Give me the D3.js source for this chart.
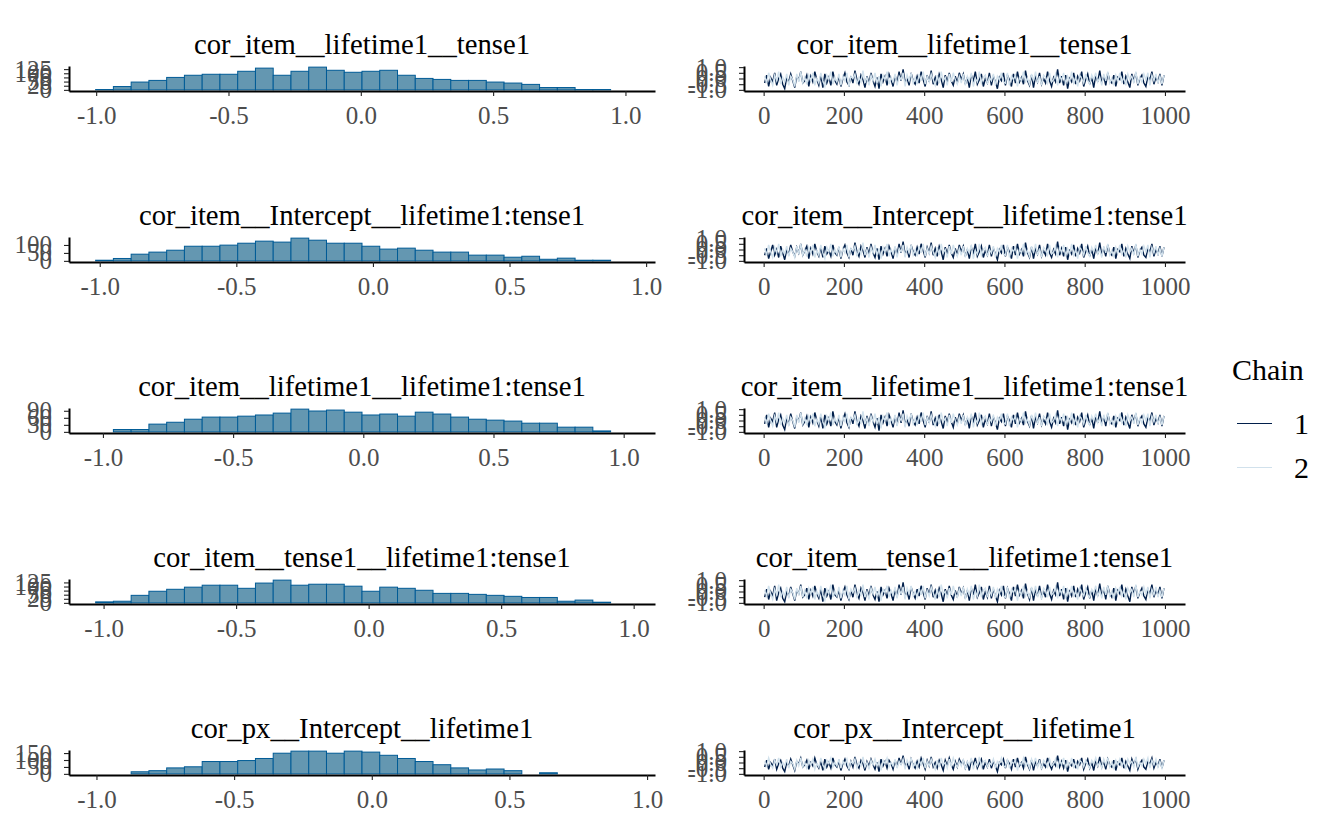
<!DOCTYPE html>
<html>
<head>
<meta charset="utf-8">
<script src="https://cdn.jsdelivr.net/npm/d3@7"></script>
<style>
  body { margin: 0; background: #fff; }
  svg { display: block; }
</style>
</head>
<body>
<svg id="chart" width="1344" height="830"></svg>
<script>
// Parameter names, one per row
const parNames = [
    "cor_item__lifetime1__tense1",
    "cor_item__Intercept__lifetime1:tense1",
    "cor_item__lifetime1__lifetime1:tense1",
    "cor_item__tense1__lifetime1:tense1",
    "cor_px__Intercept__lifetime1"
];

// Histogram bins (30 per panel)
const binStarts = [-1.002, -1.015, -1.028, -1.03, -1.003];
const binWidths = [0.0671, 0.065, 0.0682, 0.067, 0.0645];

const countsLifeTense = [2, 20, 47, 57, 75, 88, 94, 94, 112, 131, 88, 112, 137, 118, 106, 112, 118, 88, 69, 63, 57, 57, 47, 41, 33, 14, 14, 2, 2, 0];
const countsInterLT = [4, 15, 42, 55, 67, 92, 92, 99, 111, 124, 118, 143, 130, 111, 111, 92, 74, 80, 67, 55, 55, 36, 36, 23, 29, 10, 17, 4, 4, 0];
const countsLifeLT = [0, 10, 10, 33, 41, 54, 63, 63, 67, 72, 80, 97, 89, 93, 84, 72, 76, 67, 84, 76, 63, 54, 50, 46, 37, 37, 20, 20, 4, 0];
const countsTenseLT = [6, 10, 46, 71, 83, 96, 108, 108, 89, 121, 139, 108, 114, 114, 102, 71, 96, 89, 77, 58, 58, 52, 46, 40, 33, 33, 10, 17, 4, 0];
const countsPxInterLife = [0, 0, 15, 23, 43, 51, 89, 89, 96, 111, 149, 164, 164, 149, 164, 157, 134, 111, 89, 66, 43, 28, 35, 23, 0, 8, 0, 0, 0, 0];

const histTicks = [
    [0, 25, 50, 75, 100, 125],
    [0, 50, 100],
    [0, 30, 60, 90],
    [0, 25, 50, 75, 100, 125],
    [0, 50, 100, 150]
];
const histXTicks = [-1, -0.5, 0, 0.5, 1];
const traceXTicks = [0, 200, 400, 600, 800, 1000];
const traceYTicks = [-1, -0.5, 0, 0.5, 1];
const traceLimits = [-1, 1];
const nIter = 1000;

// Trace draws, thinned to every 5th iteration, chain 1 and chain 2
const traceLifeTense1 = [
    -0.4, 0.3, -0.7, 0.1, -0.3, 0.5, -0.6, 0.0, 0.4, -0.5,
    -0.9, 0.1, -0.3, 0.4, -0.2, -0.8, 0.2, -0.1, 0.6, -0.4,
    -0.2, 0.3, -0.7, 0.2, -0.3, 0.6, -0.1, -0.6, 0.3, -0.8,
    0.4, -0.4, 0.1, -0.6, 0.6, -0.2, -0.5, 0.2, -0.7, 0.0,
    0.5, -0.3, -0.6, 0.2, -0.4, 0.7, -0.1, -0.5, 0.3, -0.1,
    -0.8, 0.2, -0.4, 0.5, -0.2, -0.7, 0.1, -0.9, 0.4, -0.3,
    0.2, -0.6, 0.4, -0.1, -0.7, 0.3, -0.4, 0.6, -0.2, 0.8,
    -0.3, 0.0, -0.6, 0.5, -0.2, -0.5, 0.2, -0.4, 0.6, -0.1,
    -0.7, 0.3, -0.3, 0.7, -0.5, 0.1, -0.6, 0.4, -0.1, -0.8,
    0.3, -0.3, 0.5, -0.2, -0.6, 0.2, -0.4, 0.5, -0.1, 0.4,
    -0.5, 0.1, -0.8, 0.3, -0.2, 0.6, -0.5, -0.1, 0.4, -0.7,
    0.0, -0.4, 0.5, -0.6, 0.2, -0.3, -0.9, 0.1, -0.2, 0.5,
    -0.6, 0.3, -0.1, -0.7, 0.4, -0.4, 0.6, -0.3, 0.1, -0.5,
    0.7, -0.2, -0.6, 0.3, -0.8, 0.2, -0.3, 0.5, -0.5, 0.0,
    -0.4, 0.6, -0.2, -0.7, 0.1, -0.3, 0.8, -0.4, 0.2, -0.6,
    0.3, -0.9, 0.0, -0.3, 0.5, -0.5, 0.2, -0.2, 0.6, -0.7,
    -0.1, 0.4, -0.5, 0.1, -0.8, 0.3, -0.3, 0.7, -0.4, 0.2,
    -0.6, 0.5, -0.2, -0.4, 0.3, -0.7, 0.1, -0.1, 0.6, -0.5,
    0.2, -0.3, -0.8, 0.4, -0.2, 0.5, -0.6, 0.0, 0.3, -0.4,
    -0.7, 0.2, -0.1, 0.6, -0.5, 0.1, -0.3, 0.4, -0.6, 0.3
];
const traceLifeTense2 = [
    0.2, -0.4, 0.5, -0.1, -0.6, 0.3, -0.2, 0.6, -0.5, 0.1,
    -0.3, 0.4, -0.6, 0.2, -0.1, -0.7, 0.4, -0.3, 0.6, -0.4,
    0.1, -0.5, 0.3, -0.2, 0.5, -0.6, 0.0, -0.4, 0.5, -0.2,
    -0.7, 0.3, -0.1, 0.6, -0.5, 0.1, -0.3, 0.4, -0.6, 0.2,
    -0.2, 0.5, -0.7, 0.2, 0.0, 0.4, -0.5, 0.1, -0.3, 0.7,
    -0.4, 0.1, -0.6, 0.3, -0.2, 0.5, -0.4, 0.2, -0.7, 0.3,
    -0.1, 0.6, -0.5, 0.1, -0.3, 0.4, -0.6, 0.2, -0.1, 0.5,
    -0.7, 0.3, -0.2, 0.5, -0.4, 0.1, -0.5, 0.4, -0.2, 0.6,
    -0.5, 0.2, -0.3, 0.4, -0.1, -0.6, 0.3, -0.4, 0.6, -0.2,
    0.1, -0.6, 0.4, -0.3, 0.5, -0.1, -0.5, 0.2, -0.4, 0.4,
    -0.6, 0.2, -0.2, 0.5, -0.7, 0.0, -0.3, 0.6, -0.4, 0.1,
    0.3, -0.5, 0.1, -0.2, 0.4, -0.6, 0.2, -0.1, 0.5, -0.3,
    -0.4, 0.5, -0.6, 0.2, -0.1, 0.3, -0.7, 0.1, -0.2, 0.6,
    -0.3, 0.0, -0.5, 0.4, -0.2, 0.6, -0.4, 0.2, -0.6, 0.3,
    0.1, -0.4, 0.5, -0.3, -0.1, 0.4, -0.6, 0.3, -0.2, 0.5,
    -0.5, 0.2, -0.3, 0.6, -0.4, 0.1, -0.7, 0.3, 0.0, -0.4,
    0.4, -0.2, -0.5, 0.3, -0.1, 0.5, -0.3, 0.1, -0.6, 0.4,
    -0.2, 0.6, -0.4, 0.0, -0.5, 0.3, -0.2, 0.5, -0.3, 0.1,
    -0.6, 0.4, -0.1, 0.2, -0.4, 0.6, -0.5, 0.1, -0.3, 0.4,
    -0.1, 0.5, -0.6, 0.3, -0.2, 0.4, -0.4, 0.2, -0.5, 0.3
];
const traceInterLT1 = [
    -0.5, 0.1, -0.8, -0.2, 0.4, -0.5, 0.0, -0.7, 0.3, -0.3,
    -0.9, 0.0, -0.4, 0.4, -0.2, -0.6, 0.2, -0.3, 0.5, -0.5,
    -0.1, 0.3, -0.8, 0.1, -0.4, 0.5, -0.2, -0.6, 0.2, -0.7,
    0.3, -0.4, -0.1, -0.6, 0.4, -0.3, -0.5, 0.2, -0.8, 0.0,
    0.4, -0.3, -0.7, 0.1, -0.5, 0.6, -0.2, -0.6, 0.3, -0.1,
    -0.7, 0.2, -0.4, 0.5, -0.3, -0.7, 0.1, -0.9, 0.3, -0.4,
    0.1, -0.6, 0.3, -0.2, -0.8, 0.2, -0.5, 0.5, -0.3, 0.7,
    -0.4, 0.0, -0.7, 0.4, -0.2, -0.5, 0.2, -0.4, 0.5, -0.1,
    -0.7, 0.2, -0.3, 0.6, -0.5, 0.1, -0.6, 0.3, -0.2, -0.9,
    0.2, -0.4, 0.4, -0.3, -0.7, 0.1, -0.5, 0.4, -0.2, 0.3,
    -0.6, 0.0, -0.8, 0.2, -0.3, 0.5, -0.6, -0.2, 0.3, -0.7,
    -0.1, -0.5, 0.4, -0.6, 0.1, -0.4, -0.9, 0.0, -0.3, 0.4,
    -0.6, 0.2, -0.2, -0.8, 0.3, -0.5, 0.5, -0.4, 0.0, -0.6,
    0.6, -0.3, -0.7, 0.2, -0.8, 0.1, -0.4, 0.4, -0.6, -0.1,
    -0.5, 0.5, -0.3, -0.7, 0.0, -0.4, 0.7, -0.5, 0.1, -0.6,
    0.2, -0.9, -0.1, -0.4, 0.4, -0.6, 0.1, -0.3, 0.5, -0.7,
    -0.2, 0.3, -0.6, 0.0, -0.8, 0.2, -0.4, 0.6, -0.5, 0.1,
    -0.6, 0.4, -0.3, -0.5, 0.2, -0.8, 0.0, -0.2, 0.5, -0.6,
    0.1, -0.4, -0.8, 0.3, -0.3, 0.4, -0.7, -0.1, 0.2, -0.5,
    -0.7, 0.1, -0.2, 0.5, -0.6, 0.0, -0.4, 0.3, -0.6, 0.2
];
const traceInterLT2 = [
    0.1, -0.5, 0.4, -0.2, -0.7, 0.2, -0.3, 0.5, -0.6, 0.0,
    -0.4, 0.3, -0.6, 0.1, -0.2, -0.7, 0.3, -0.4, 0.5, -0.5,
    0.0, -0.6, 0.2, -0.3, 0.4, -0.7, -0.1, -0.5, 0.4, -0.3,
    -0.8, 0.2, -0.2, 0.5, -0.6, 0.0, -0.4, 0.3, -0.7, 0.1,
    -0.3, 0.4, -0.7, 0.1, -0.1, 0.3, -0.6, 0.0, -0.4, 0.6,
    -0.5, 0.0, -0.7, 0.2, -0.3, 0.4, -0.5, 0.1, -0.8, 0.2,
    -0.2, 0.5, -0.6, 0.0, -0.4, 0.3, -0.7, 0.1, -0.2, 0.4,
    -0.7, 0.2, -0.3, 0.4, -0.5, 0.0, -0.6, 0.3, -0.3, 0.5,
    -0.6, 0.1, -0.4, 0.3, -0.2, -0.7, 0.2, -0.5, 0.5, -0.3,
    0.0, -0.7, 0.3, -0.4, 0.4, -0.2, -0.6, 0.1, -0.5, 0.3,
    -0.7, 0.1, -0.3, 0.4, -0.8, -0.1, -0.4, 0.5, -0.5, 0.0,
    0.2, -0.6, 0.0, -0.3, 0.3, -0.7, 0.1, -0.2, 0.4, -0.4,
    -0.5, 0.4, -0.7, 0.1, -0.2, 0.2, -0.8, 0.0, -0.3, 0.5,
    -0.4, -0.1, -0.6, 0.3, -0.3, 0.5, -0.5, 0.1, -0.7, 0.2,
    0.0, -0.5, 0.4, -0.4, -0.2, 0.3, -0.7, 0.2, -0.3, 0.4,
    -0.6, 0.1, -0.4, 0.5, -0.5, 0.0, -0.8, 0.2, -0.1, -0.5,
    0.3, -0.3, -0.6, 0.2, -0.2, 0.4, -0.4, 0.0, -0.7, 0.3,
    -0.3, 0.5, -0.5, -0.1, -0.6, 0.2, -0.3, 0.4, -0.4, 0.0,
    -0.7, 0.3, -0.2, 0.1, -0.5, 0.5, -0.6, 0.0, -0.4, 0.3,
    -0.2, 0.4, -0.7, 0.2, -0.3, 0.3, -0.5, 0.1, -0.6, 0.2
];
const traceLifeLT1 = [
    -0.3, 0.5, -0.6, 0.2, -0.1, 0.7, -0.6, 0.1, 0.5, -0.4,
    -0.8, 0.2, -0.3, 0.6, -0.1, -0.7, 0.3, 0.0, 0.7, -0.4,
    -0.1, 0.4, -0.6, 0.3, -0.2, 0.7, 0.0, -0.5, 0.4, -0.7,
    0.5, -0.3, 0.2, -0.5, 0.8, -0.1, -0.4, 0.3, -0.7, 0.1,
    0.6, -0.2, -0.6, 0.3, -0.3, 0.8, -0.1, -0.5, 0.4, 0.0,
    -0.7, 0.4, -0.3, 0.6, -0.1, -0.6, 0.2, -0.9, 0.5, -0.2,
    0.3, -0.5, 0.5, 0.0, -0.6, 0.4, -0.4, 0.7, -0.2, 0.9,
    -0.3, 0.1, -0.5, 0.6, -0.1, -0.4, 0.3, -0.3, 0.7, 0.0,
    -0.6, 0.4, -0.2, 0.8, -0.4, 0.2, -0.5, 0.5, -0.1, -0.7,
    0.4, -0.2, 0.6, -0.1, -0.6, 0.3, -0.3, 0.6, 0.0, 0.5,
    -0.4, 0.2, -0.7, 0.4, -0.1, 0.7, -0.4, 0.0, 0.5, -0.6,
    0.1, -0.3, 0.6, -0.5, 0.3, -0.2, -0.8, 0.2, -0.1, 0.6,
    -0.5, 0.4, 0.0, -0.6, 0.5, -0.3, 0.7, -0.2, 0.2, -0.4,
    0.8, -0.1, -0.5, 0.4, -0.7, 0.3, -0.2, 0.6, -0.4, 0.1,
    -0.3, 0.7, -0.1, -0.6, 0.2, -0.2, 0.9, -0.3, 0.3, -0.5,
    0.4, -0.8, 0.1, -0.2, 0.6, -0.4, 0.3, -0.1, 0.7, -0.6,
    0.0, 0.5, -0.4, 0.2, -0.7, 0.4, -0.2, 0.8, -0.3, 0.3,
    -0.5, 0.6, -0.1, -0.3, 0.4, -0.6, 0.2, 0.0, 0.7, -0.4,
    0.3, -0.2, -0.7, 0.5, -0.1, 0.6, -0.5, 0.1, 0.4, -0.3,
    -0.6, 0.3, 0.0, 0.7, -0.4, 0.2, -0.2, 0.5, -0.5, 0.4
];
const traceLifeLT2 = [
    0.3, -0.3, 0.6, 0.0, -0.5, 0.4, -0.1, 0.7, -0.4, 0.2,
    -0.2, 0.5, -0.5, 0.3, 0.0, -0.6, 0.5, -0.2, 0.7, -0.3,
    0.2, -0.4, 0.4, -0.1, 0.6, -0.5, 0.1, -0.3, 0.6, -0.1,
    -0.6, 0.4, 0.0, 0.7, -0.4, 0.2, -0.2, 0.5, -0.5, 0.3,
    -0.1, 0.6, -0.6, 0.3, 0.1, 0.5, -0.4, 0.2, -0.2, 0.8,
    -0.3, 0.2, -0.5, 0.4, -0.1, 0.6, -0.3, 0.3, -0.7, 0.4,
    0.0, 0.7, -0.4, 0.2, -0.2, 0.5, -0.5, 0.3, 0.0, 0.6,
    -0.6, 0.4, -0.1, 0.6, -0.3, 0.2, -0.4, 0.5, -0.1, 0.7,
    -0.4, 0.3, -0.2, 0.5, 0.0, -0.5, 0.4, -0.3, 0.7, -0.1,
    0.2, -0.5, 0.5, -0.2, 0.6, 0.0, -0.4, 0.3, -0.3, 0.5,
    -0.5, 0.3, -0.1, 0.6, -0.6, 0.1, -0.2, 0.7, -0.3, 0.2,
    0.4, -0.4, 0.2, -0.1, 0.5, -0.5, 0.3, 0.0, 0.6, -0.2,
    -0.3, 0.6, -0.5, 0.3, 0.0, 0.4, -0.6, 0.2, -0.1, 0.7,
    -0.2, 0.1, -0.4, 0.5, -0.1, 0.7, -0.3, 0.3, -0.5, 0.4,
    0.2, -0.3, 0.6, -0.2, 0.0, 0.5, -0.5, 0.4, -0.1, 0.6,
    -0.4, 0.3, -0.2, 0.7, -0.3, 0.2, -0.6, 0.4, 0.1, -0.3,
    0.5, -0.1, -0.4, 0.4, 0.0, 0.6, -0.2, 0.2, -0.5, 0.5,
    -0.1, 0.7, -0.3, 0.1, -0.4, 0.4, -0.1, 0.6, -0.2, 0.2,
    -0.5, 0.5, 0.0, 0.3, -0.3, 0.7, -0.4, 0.2, -0.2, 0.5,
    0.0, 0.6, -0.5, 0.4, -0.1, 0.5, -0.3, 0.3, -0.4, 0.4
];
const traceTenseLT1 = [
    -0.5, 0.2, -0.7, 0.0, -0.4, 0.5, -0.8, -0.1, 0.3, -0.6,
    -0.9, 0.0, -0.4, 0.4, -0.2, -0.8, 0.1, -0.2, 0.6, -0.5,
    -0.3, 0.3, -0.7, 0.1, -0.4, 0.5, -0.2, -0.6, 0.2, -0.9,
    0.3, -0.4, 0.0, -0.7, 0.6, -0.3, -0.5, 0.1, -0.8, -0.1,
    0.4, -0.3, -0.7, 0.1, -0.5, 0.6, -0.2, -0.6, 0.3, -0.1,
    -0.8, 0.2, -0.4, 0.5, -0.3, -0.7, 0.0, -0.9, 0.4, -0.3,
    0.1, -0.6, 0.3, -0.2, -0.8, 0.2, -0.5, 0.6, -0.3, 0.8,
    -0.4, 0.0, -0.7, 0.4, -0.2, -0.6, 0.2, -0.4, 0.5, -0.1,
    -0.7, 0.3, -0.3, 0.6, -0.5, 0.1, -0.6, 0.3, -0.2, -0.9,
    0.2, -0.4, 0.5, -0.3, -0.7, 0.1, -0.5, 0.4, -0.2, 0.3,
    -0.6, 0.1, -0.8, 0.3, -0.3, 0.6, -0.5, -0.1, 0.4, -0.7,
    0.0, -0.5, 0.5, -0.6, 0.2, -0.4, -0.9, 0.1, -0.3, 0.5,
    -0.6, 0.3, -0.2, -0.8, 0.4, -0.4, 0.6, -0.3, 0.1, -0.6,
    0.7, -0.2, -0.7, 0.3, -0.8, 0.2, -0.4, 0.5, -0.5, 0.0,
    -0.5, 0.6, -0.2, -0.7, 0.1, -0.3, 0.8, -0.4, 0.2, -0.7,
    0.3, -0.9, 0.0, -0.4, 0.5, -0.5, 0.2, -0.3, 0.6, -0.7,
    -0.1, 0.4, -0.6, 0.1, -0.8, 0.3, -0.4, 0.7, -0.4, 0.2,
    -0.7, 0.5, -0.2, -0.5, 0.3, -0.8, 0.1, -0.2, 0.6, -0.5,
    0.2, -0.4, -0.9, 0.4, -0.2, 0.5, -0.6, -0.1, 0.3, -0.4,
    -0.7, 0.2, -0.2, 0.6, -0.5, 0.1, -0.3, 0.4, -0.6, 0.3
];
const traceTenseLT2 = [
    0.1, -0.4, 0.5, -0.2, -0.7, 0.2, -0.3, 0.6, -0.5, 0.0,
    -0.4, 0.4, -0.6, 0.2, -0.1, -0.7, 0.3, -0.3, 0.5, -0.5,
    0.1, -0.6, 0.3, -0.2, 0.4, -0.7, 0.0, -0.4, 0.5, -0.3,
    -0.8, 0.2, -0.2, 0.6, -0.5, 0.0, -0.4, 0.4, -0.6, 0.1,
    -0.3, 0.5, -0.7, 0.2, -0.1, 0.3, -0.6, 0.1, -0.3, 0.6,
    -0.5, 0.0, -0.7, 0.3, -0.2, 0.4, -0.4, 0.1, -0.8, 0.2,
    -0.1, 0.5, -0.5, 0.1, -0.3, 0.4, -0.6, 0.2, -0.2, 0.4,
    -0.7, 0.3, -0.2, 0.5, -0.4, 0.0, -0.5, 0.3, -0.3, 0.5,
    -0.6, 0.1, -0.4, 0.4, -0.1, -0.7, 0.2, -0.5, 0.6, -0.2,
    0.0, -0.6, 0.3, -0.3, 0.5, -0.2, -0.5, 0.2, -0.4, 0.4,
    -0.7, 0.2, -0.3, 0.5, -0.7, 0.0, -0.4, 0.6, -0.5, 0.1,
    0.3, -0.5, 0.1, -0.3, 0.4, -0.6, 0.2, -0.2, 0.5, -0.4,
    -0.5, 0.4, -0.6, 0.2, -0.1, 0.3, -0.8, 0.1, -0.3, 0.5,
    -0.4, 0.0, -0.6, 0.4, -0.2, 0.5, -0.5, 0.1, -0.7, 0.3,
    0.1, -0.5, 0.4, -0.3, -0.1, 0.4, -0.6, 0.2, -0.2, 0.5,
    -0.6, 0.2, -0.3, 0.5, -0.4, 0.0, -0.7, 0.3, -0.1, -0.4,
    0.3, -0.3, -0.5, 0.2, -0.1, 0.5, -0.4, 0.1, -0.6, 0.4,
    -0.3, 0.5, -0.4, 0.0, -0.6, 0.3, -0.2, 0.4, -0.4, 0.1,
    -0.7, 0.3, -0.1, 0.2, -0.5, 0.6, -0.5, 0.0, -0.3, 0.4,
    -0.2, 0.4, -0.6, 0.2, -0.3, 0.4, -0.5, 0.1, -0.5, 0.3
];
const tracePxInterLife1 = [
    -0.4, 0.2, -0.6, 0.0, -0.3, 0.3, -0.6, -0.1, 0.2, -0.5,
    -0.8, 0.0, -0.3, 0.3, -0.2, -0.7, 0.1, -0.1, 0.4, -0.4,
    -0.2, 0.2, -0.6, 0.0, -0.3, 0.4, -0.2, -0.5, 0.1, -0.7,
    0.3, -0.4, 0.0, -0.5, 0.4, -0.2, -0.4, 0.1, -0.7, -0.1,
    0.3, -0.3, -0.6, 0.1, -0.4, 0.5, -0.2, -0.5, 0.2, -0.1,
    -0.7, 0.1, -0.3, 0.3, -0.2, -0.6, 0.0, -0.8, 0.3, -0.3,
    0.1, -0.5, 0.2, -0.1, -0.6, 0.2, -0.4, 0.4, -0.2, 0.6,
    -0.3, 0.0, -0.6, 0.3, -0.2, -0.5, 0.1, -0.4, 0.4, -0.1,
    -0.6, 0.2, -0.3, 0.5, -0.4, 0.0, -0.5, 0.2, -0.2, -0.7,
    0.2, -0.3, 0.4, -0.2, -0.6, 0.1, -0.4, 0.3, -0.1, 0.2,
    -0.5, 0.0, -0.7, 0.2, -0.2, 0.4, -0.5, -0.1, 0.3, -0.6,
    0.0, -0.4, 0.3, -0.5, 0.1, -0.3, -0.8, 0.0, -0.2, 0.3,
    -0.5, 0.2, -0.1, -0.6, 0.3, -0.4, 0.4, -0.3, 0.0, -0.5,
    0.5, -0.2, -0.6, 0.2, -0.7, 0.1, -0.3, 0.3, -0.5, -0.1,
    -0.4, 0.4, -0.2, -0.6, 0.0, -0.3, 0.6, -0.4, 0.1, -0.5,
    0.2, -0.8, -0.1, -0.3, 0.3, -0.5, 0.1, -0.2, 0.4, -0.6,
    -0.1, 0.3, -0.5, 0.0, -0.7, 0.2, -0.3, 0.5, -0.4, 0.1,
    -0.6, 0.3, -0.2, -0.4, 0.2, -0.7, 0.0, -0.2, 0.4, -0.5,
    0.1, -0.3, -0.7, 0.3, -0.2, 0.3, -0.6, -0.1, 0.2, -0.4,
    -0.6, 0.1, -0.1, 0.4, -0.5, 0.0, -0.3, 0.3, -0.5, 0.2
];
const tracePxInterLife2 = [
    0.1, -0.3, 0.4, -0.2, -0.5, 0.2, -0.2, 0.4, -0.4, 0.0,
    -0.3, 0.3, -0.5, 0.1, -0.1, -0.6, 0.2, -0.3, 0.4, -0.4,
    0.0, -0.5, 0.2, -0.2, 0.3, -0.6, -0.1, -0.4, 0.4, -0.2,
    -0.6, 0.2, -0.1, 0.4, -0.4, 0.0, -0.3, 0.3, -0.5, 0.1,
    -0.2, 0.3, -0.6, 0.1, -0.1, 0.3, -0.5, 0.0, -0.3, 0.5,
    -0.4, 0.0, -0.6, 0.2, -0.2, 0.3, -0.3, 0.1, -0.7, 0.2,
    -0.1, 0.4, -0.4, 0.0, -0.3, 0.3, -0.5, 0.1, -0.2, 0.3,
    -0.6, 0.2, -0.2, 0.4, -0.4, 0.0, -0.5, 0.2, -0.2, 0.4,
    -0.5, 0.1, -0.3, 0.3, -0.1, -0.6, 0.2, -0.4, 0.4, -0.2,
    0.0, -0.5, 0.3, -0.3, 0.4, -0.1, -0.4, 0.1, -0.3, 0.3,
    -0.6, 0.1, -0.2, 0.4, -0.6, 0.0, -0.3, 0.5, -0.4, 0.1,
    0.2, -0.4, 0.0, -0.2, 0.3, -0.5, 0.1, -0.1, 0.4, -0.3,
    -0.4, 0.3, -0.5, 0.1, -0.1, 0.2, -0.7, 0.0, -0.2, 0.4,
    -0.3, 0.0, -0.5, 0.3, -0.2, 0.4, -0.4, 0.1, -0.6, 0.2,
    0.0, -0.4, 0.3, -0.3, -0.1, 0.3, -0.5, 0.2, -0.2, 0.4,
    -0.5, 0.1, -0.3, 0.4, -0.4, 0.0, -0.6, 0.2, 0.0, -0.4,
    0.2, -0.2, -0.5, 0.2, -0.1, 0.4, -0.3, 0.0, -0.5, 0.3,
    -0.2, 0.4, -0.4, 0.0, -0.5, 0.2, -0.2, 0.3, -0.3, 0.1,
    -0.6, 0.3, -0.1, 0.1, -0.4, 0.5, -0.4, 0.0, -0.3, 0.3,
    -0.1, 0.4, -0.5, 0.2, -0.2, 0.3, -0.4, 0.1, -0.5, 0.2
];

const chainNames = ["1", "2"];
const chainColors = ["#011f4b", "#d1e1ec"];

const histCounts = [countsLifeTense, countsInterLT, countsLifeLT, countsTenseLT, countsPxInterLife];
const traces = [
    [traceLifeTense1, traceLifeTense2],
    [traceInterLT1, traceInterLT2],
    [traceLifeLT1, traceLifeLT2],
    [traceTenseLT1, traceTenseLT2],
    [tracePxInterLife1, tracePxInterLife2]
];

// layout
const font = "'Liberation Serif', 'Times New Roman', serif";
const firstAxisY = 91, rowStep = 171, panelH = 25;
const histRange = [69, 655], traceRange = [744, 1185];
const fmt = d3.formatLocale({decimal: ".", thousands: ",", grouping: [3], currency: ["", ""], minus: "-"}).format(".1f");

const svg = d3.select("#chart");

// Style an axis the ggplot way
function styleAxis(g) {
    g.attr("font-family", font).attr("font-size", 25);
    g.select(".domain").attr("stroke", "#000").attr("stroke-width", 2);
    g.selectAll(".tick line").attr("stroke", "#222").attr("stroke-width", 1.1);
    g.selectAll(".tick text").attr("fill", "#4d4d4d");
}

// expand a range by 5% each side
function expand(lo, hi) {
    const p = (hi - lo) * 0.05;
    return [lo - p, hi + p];
}

parNames.forEach((name, r) => {
    const base = firstAxisY + r * rowStep;
    const top = base - panelH;

    // ---- histogram ----
    const counts = histCounts[r];
    const start = binStarts[r], w = binWidths[r];
    const x = d3.scaleLinear()
        .domain(expand(start, start + counts.length * w))
        .range(histRange);
    const y = d3.scaleLinear()
        .domain(expand(0, d3.max(counts)))
        .range([base, top]);

    const hist = svg.append("g").attr("class", "hist");
    hist.selectAll("rect")
        .data(counts)
        .enter().append("rect")
        .attr("x", (d, i) => x(start + i * w))
        .attr("width", x(start + w) - x(start))
        .attr("y", d => y(d))
        .attr("height", d => y(0) - y(d))
        .attr("fill", "#6497b1")
        .attr("stroke", "#005b96")
        .attr("stroke-width", 1);

    hist.append("g")
        .attr("transform", `translate(0,${base})`)
        .call(d3.axisBottom(x).tickValues(histXTicks).tickFormat(fmt)
            .tickSize(5).tickSizeOuter(0).tickPadding(10))
        .call(styleAxis);
    hist.append("g")
        .attr("transform", `translate(${histRange[0]},0)`)
        .call(d3.axisLeft(y).tickValues(histTicks[r])
            .tickSize(5).tickSizeOuter(0).tickPadding(12))
        .call(styleAxis);

    hist.append("text")
        .attr("x", (histRange[0] + histRange[1]) / 2)
        .attr("y", base - 37)
        .attr("text-anchor", "middle")
        .attr("font-family", font)
        .attr("font-size", 28.7)
        .attr("fill", "#000")
        .text(name);

    // ---- trace ----
    const tx = d3.scaleLinear().domain(expand(1, nIter)).range(traceRange);
    const ty = d3.scaleLinear().domain(expand(traceLimits[0], traceLimits[1])).range([base, top]);
    const tr = svg.append("g").attr("class", "trace");

    traces[r].forEach((vals, c) => {
        const step = nIter / vals.length;
        const line = d3.line()
            .x((d, i) => tx(step / 2 + i * step))
            .y(d => ty(d));
        tr.append("path")
            .datum(vals)
            .attr("d", line)
            .attr("fill", "none")
            .attr("stroke", chainColors[c])
            .attr("stroke-width", 1.4);
    });

    tr.append("g")
        .attr("transform", `translate(0,${base})`)
        .call(d3.axisBottom(tx).tickValues(traceXTicks).tickFormat(d3.format("d"))
            .tickSize(5).tickSizeOuter(0).tickPadding(10))
        .call(styleAxis);
    tr.append("g")
        .attr("transform", `translate(${traceRange[0]},0)`)
        .call(d3.axisLeft(ty).tickValues(traceYTicks).tickFormat(fmt)
            .tickSize(5).tickSizeOuter(0).tickPadding(12))
        .call(styleAxis);

    tr.append("text")
        .attr("x", (traceRange[0] + traceRange[1]) / 2)
        .attr("y", base - 37)
        .attr("text-anchor", "middle")
        .attr("font-family", font)
        .attr("font-size", 28.7)
        .attr("fill", "#000")
        .text(name);
});

// ---- legend ----
const legend = svg.append("g").attr("transform", "translate(1232,0)");
legend.append("text")
    .attr("x", 0).attr("y", 380)
    .attr("font-family", font).attr("font-size", 30)
    .text("Chain");
const keys = legend.selectAll("g.key")
    .data(chainNames)
    .enter().append("g")
    .attr("class", "key")
    .attr("transform", (d, i) => `translate(0,${423.5 + i * 44})`);
keys.append("line")
    .attr("x1", 5).attr("x2", 40)
    .attr("stroke", (d, i) => chainColors[i])
    .attr("stroke-width", 1);
keys.append("text")
    .attr("x", 62).attr("y", 10)
    .attr("font-family", font).attr("font-size", 30)
    .text(d => d);
</script>
</body>
</html>
